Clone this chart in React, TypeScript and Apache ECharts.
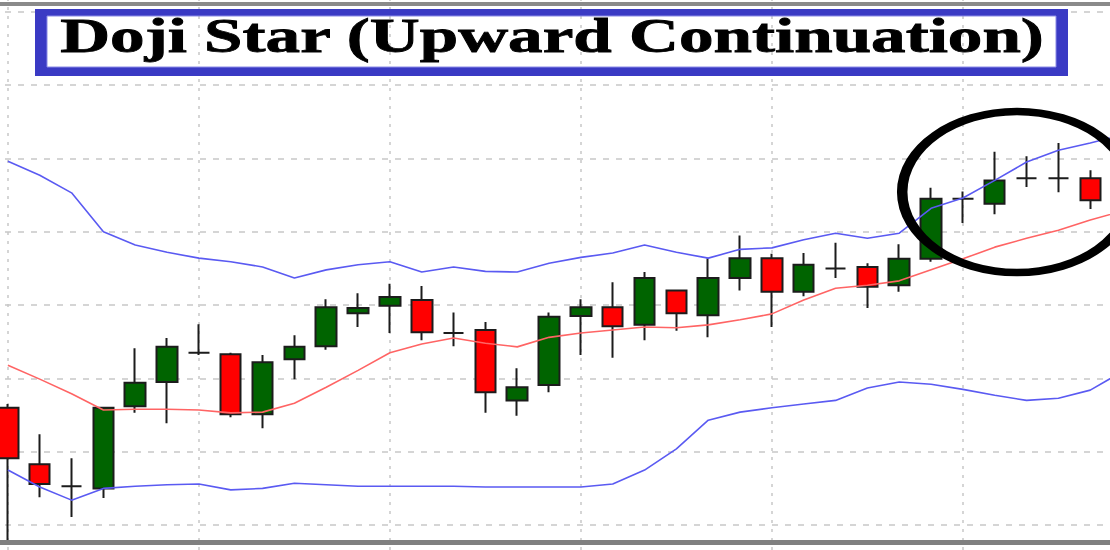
import React, { useEffect, useRef } from "react";
import * as echarts from "echarts";

// Candles: open, close, low, high (price units)
const opens = [116.0,108.3,105.3,105.0,116.2,119.5,123.5,123.3,115.1,122.6,124.4,128.9,129.9,130.7,126.2,126.6,117.0,119.1,128.5,129.7,127.3,132.0,128.6,133.7,136.4,131.8,135.0,135.2,132.7,136.3,144.5,143.8,147.3,147.3,147.3,144.3];
const closes = [109.1,105.6,105.3,116.0,119.4,124.3,123.5,115.1,122.2,124.3,129.7,129.6,131.1,126.3,126.2,118.1,118.8,128.4,129.7,127.1,133.7,128.9,133.7,136.4,131.8,135.5,135.0,132.5,136.3,144.5,144.5,147.0,147.3,147.3,144.3,149.8];
const lows = [97.8,103.8,101.1,103.7,115.3,113.9,123.2,114.7,113.2,119.9,123.9,127.0,126.2,125.2,124.4,115.3,114.9,118.1,123.2,122.8,125.2,126.5,125.6,132.0,127.0,131.2,133.7,129.6,131.8,135.9,141.2,142.4,146.1,145.4,143.1,143.6];
const highs = [116.5,112.4,109.1,116.1,124.1,125.5,127.4,123.5,123.2,125.9,130.8,131.6,132.9,132.6,129.0,127.7,121.4,129.0,130.8,133.1,134.5,132.1,136.4,139.5,137.0,137.1,138.5,135.7,138.3,146.0,145.5,150.9,150.3,152.1,148.4,151.1];

// Bollinger bands
const upperBand = [149.6,147.7,145.3,140.0,138.2,137.2,136.4,135.9,135.2,133.7,134.8,135.5,135.9,134.5,135.2,134.6,134.5,135.7,136.5,137.1,138.2,137.2,136.4,137.6,137.8,138.9,139.8,139.1,139.8,143.2,144.6,147.0,149.5,151.1,152.1,153.2];
const middleBand = [121.8,119.9,117.9,115.7,115.8,115.8,115.7,115.3,115.4,116.6,118.8,121.1,123.5,124.7,125.5,124.8,124.3,125.6,126.2,126.6,127.0,126.9,127.3,128.0,128.8,130.7,132.3,132.7,133.3,134.8,136.3,137.9,139.1,140.2,141.6,142.8];
const lowerBand = [107.5,105.2,103.4,105.0,105.3,105.5,105.6,104.8,105.0,105.7,105.5,105.3,105.3,105.3,105.3,105.2,105.2,105.2,105.2,105.6,107.5,110.4,114.3,115.4,116.0,116.5,117.0,118.7,119.5,119.2,118.5,117.7,117.0,117.3,118.4,120.9];

const categories = opens.map((_, i) => `T${i + 1}`);
const hGridValues = [100, 110, 120, 130, 140, 150, 160, 170];
const vGridIndices = [0, 6, 12, 18, 24, 30];

const titleText = "Doji Star (Upward Continuation)";

export default function App() {
  const ref = useRef<HTMLDivElement>(null);

  useEffect(() => {
    if (!ref.current) return;
    const chart = echarts.init(ref.current, null, { renderer: "svg" });
    const candleData = opens.map((o, i) => [o, closes[i], lows[i], highs[i]]);
    const blue = "#5a5af2";
    const red = "#ff6464";
    const boxBlue = "#3a3ac4";

    chart.setOption({
      animation: false,
      backgroundColor: "#ffffff",
      grid: { left: -8, top: 0, width: 1146, height: 550, show: false, outerBoundsMode: "none" },
      xAxis: { type: "category", data: categories, boundaryGap: true, show: false },
      yAxis: { type: "value", min: 96.6, max: 171.6, show: false, splitLine: { show: false } },
      series: [
        {
          type: "line",
          name: "gridlines",
          data: categories.map(() => null),
          z: 0,
          silent: true,
          showSymbol: false,
          markLine: {
            z: 0,
            silent: true,
            animation: false,
            symbol: ["none", "none"],
            label: { show: false },
            lineStyle: { color: "#c8c8c8", width: 1.5, type: [6, 7] },
            data: [
              ...hGridValues.map((v) => ({ yAxis: v, lineStyle: { color: "#c8c8c8", width: 1.5, type: [6, 7] } })),
              ...vGridIndices.map((i) => ({ xAxis: categories[i], lineStyle: { color: "#c8c8c8", width: 1.5, type: [3, 6] } })),
            ],
          },
        },
        {
          type: "candlestick",
          name: "price",
          data: candleData,
          barWidth: 21,
          z: 2,
          itemStyle: {
            color: "#006400",
            color0: "#ff0000",
            borderColor: "#1c1c1c",
            borderColor0: "#1c1c1c",
            borderColorDoji: "#1c1c1c",
            borderWidth: 2,
          },
        },
        {
          type: "line",
          name: "upper",
          data: upperBand,
          symbol: "none",
          z: 3,
          lineStyle: { color: blue, width: 1.6 },
        },
        {
          type: "line",
          name: "middle",
          data: middleBand,
          symbol: "none",
          z: 3,
          lineStyle: { color: red, width: 1.6 },
        },
        {
          type: "line",
          name: "lower",
          data: lowerBand,
          symbol: "none",
          z: 3,
          lineStyle: { color: blue, width: 1.6 },
        },
      ],
      graphic: [
        { type: "rect", z: 50, shape: { x: 0, y: 2, width: 1110, height: 4 }, style: { fill: "#8a8a8a" } },
        { type: "rect", z: 50, shape: { x: 0, y: 540, width: 1110, height: 5 }, style: { fill: "#808080" } },
        { type: "rect", z: 50, shape: { x: 35, y: 9, width: 1033, height: 7 }, style: { fill: boxBlue } },
        { type: "rect", z: 50, shape: { x: 35, y: 67, width: 1033, height: 9 }, style: { fill: boxBlue } },
        { type: "rect", z: 50, shape: { x: 35, y: 9, width: 12, height: 67 }, style: { fill: boxBlue } },
        { type: "rect", z: 50, shape: { x: 1056, y: 9, width: 12, height: 67 }, style: { fill: boxBlue } },
        { type: "rect", z: 50, shape: { x: 47, y: 16, width: 1009, height: 51 }, style: { fill: "none", stroke: "#8a8ae6", lineWidth: 1 } },
        {
          type: "text",
          z: 60,
          x: 552,
          y: 36,
          scaleX: 1.44,
          style: {
            text: titleText,
            font: 'bold 48px "Liberation Serif", "Times New Roman", serif',
            fill: "#000000",
            stroke: "#000000",
            lineWidth: 0.8,
            align: "center",
            verticalAlign: "middle",
            textShadowColor: "rgba(150,95,35,0.9)",
            textShadowOffsetX: -1.2,
            textShadowOffsetY: 0,
            textShadowBlur: 0,
          },
        },
        {
          type: "ellipse",
          z: 70,
          x: 1017,
          y: 192,
          scaleX: 1.4,
          shape: { cx: 0, cy: 0, rx: 82, ry: 80.5 },
          style: { fill: "none", stroke: "#000000", lineWidth: 7.5 },
        },
      ],
    });

    return () => chart.dispose();
  }, []);

  return (
    <div
      ref={ref}
      style={{ position: "fixed", left: 0, top: 0, width: 1110, height: 550, background: "#fff" }}
    />
  );
}
